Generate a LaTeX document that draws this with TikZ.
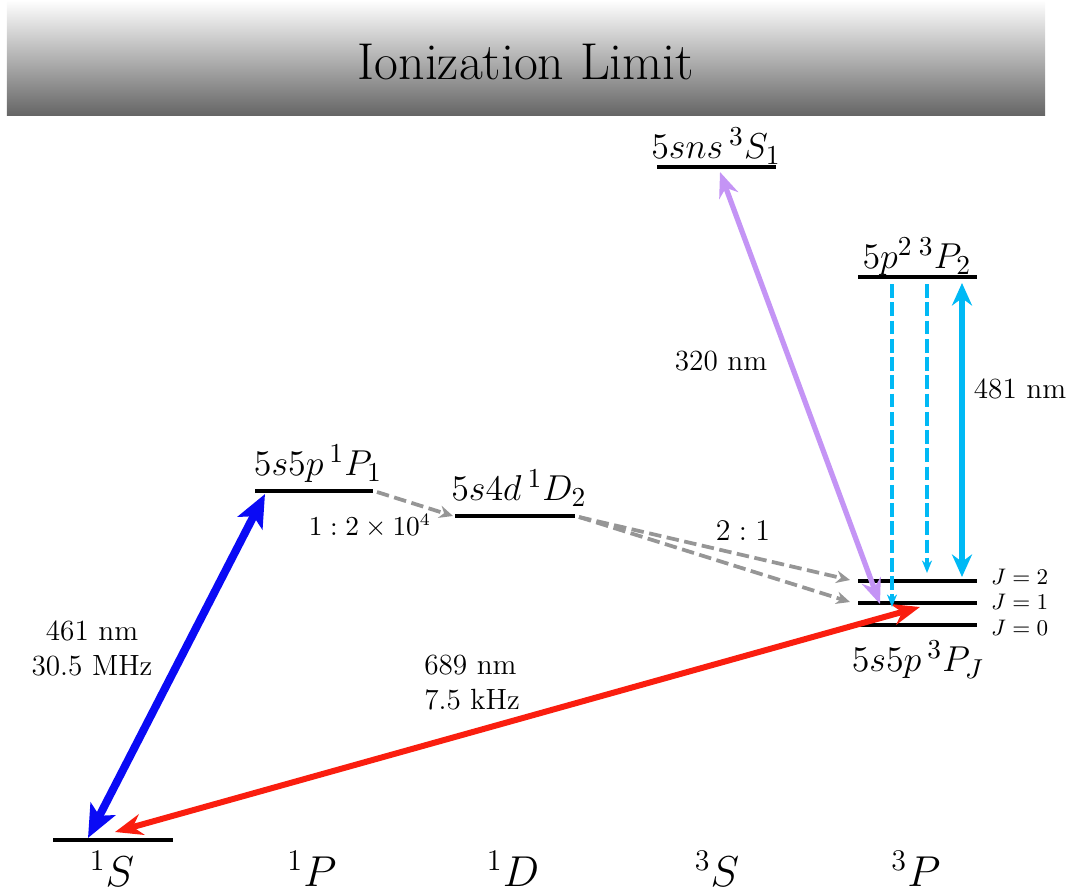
\documentclass[tikz,border=0pt]{standalone}
\usetikzlibrary{arrows.meta}
\definecolor{myblue}{RGB}{10,10,245}
\definecolor{myred}{RGB}{250,30,15}
\definecolor{mypurple}{RGB}{196,148,245}
\definecolor{mycyan}{RGB}{0,185,245}
\definecolor{mygray}{RGB}{150,150,150}
\begin{document}
\begin{tikzpicture}[x=0.4pt,y=-0.4pt,
  lvl/.style={line width=1.8pt},
  lvllabel/.style={font=\fontsize{15.4}{18}\selectfont, inner sep=1pt},
  termlabel/.style={font=\LARGE, inner sep=1pt},
  jlabel/.style={font=\fontsize{8.8}{10}\selectfont, anchor=west, inner sep=1pt},
  txt/.style={font=\fontsize{11.7}{14}\selectfont, inner sep=1pt, align=center},
  bluearrow/.style={myblue, line width=3.2pt, {Stealth[length=13pt,width=11pt,inset=3pt]}-{Stealth[length=13pt,width=11pt,inset=3pt]}},
  redarrow/.style={myred, line width=2.4pt, {Stealth[length=11pt,width=8.5pt]}-{Stealth[length=11pt,width=8.5pt]}},
  purplearrow/.style={mypurple, line width=2.1pt, {Stealth[length=10pt,width=8pt]}-{Stealth[length=10pt,width=8pt]}},
  cyanarrow/.style={mycyan, line width=2.1pt, {Stealth[length=9pt,width=8pt]}-{Stealth[length=9pt,width=8pt]}},
  cyandash/.style={mycyan, line width=1.3pt, dash pattern=on 5.5pt off 1.8pt, -{Stealth[length=5pt,width=4pt]}},
  graydash/.style={mygray, line width=1.5pt, dash pattern=on 5pt off 2.2pt, -{Stealth[length=5.5pt,width=5pt]}}
]
\useasboundingbox (0,0) rectangle (1069,894);
% ionization limit
\shade[top color=white, middle color=black!12, bottom color=black!60] (7,0) rectangle (1045,115);
\node[font=\huge] (ion) at (526,62) {Ionization Limit};

% levels
\coordinate (s0l) at (53,840); \coordinate (s0r) at (173,840);
\draw[lvl] (s0l) -- (s0r);
\coordinate (p1l) at (255,491); \coordinate (p1r) at (373,491);
\draw[lvl] (p1l) -- (p1r);
\node[lvllabel] (p1lab) at (318,464) {$5s5p\,^1P_1$};
\coordinate (d2l) at (455,516); \coordinate (d2r) at (575,516);
\draw[lvl] (d2l) -- (d2r);
\node[lvllabel] (d2lab) at (519,488) {$5s4d\,^1D_2$};
\coordinate (s3l) at (657,167); \coordinate (s3r) at (776,167);
\draw[lvl] (s3l) -- (s3r);
\node[lvllabel] (s3lab) at (716,146) {$5sns\,^3S_1$};
\coordinate (pp2l) at (858,277); \coordinate (pp2r) at (977,277);
\draw[lvl] (pp2l) -- (pp2r);
\node[lvllabel] (pp2lab) at (917,257) {$5p^2\,^3P_2$};
\coordinate (j2l) at (858,581); \coordinate (j2r) at (977,581);
\coordinate (j1l) at (858,603); \coordinate (j1r) at (977,603);
\coordinate (j0l) at (858,625); \coordinate (j0r) at (977,625);
\draw[lvl] (j2l) -- (j2r);
\draw[lvl] (j1l) -- (j1r);
\draw[lvl] (j0l) -- (j0r);
\node[jlabel] (j2lab) at (988,577) {$J=2$};
\node[jlabel] (j1lab) at (988,602) {$J=1$};
\node[jlabel] (j0lab) at (988,628) {$J=0$};
\node[lvllabel] (pjlab) at (918,660) {$5s5p\,^3P_J$};

% term labels
\node[termlabel] (t1) at (112,869) {$^1S$};
\node[termlabel] (t2) at (312,869) {$^1P$};
\node[termlabel] (t3) at (513,869) {$^1D$};
\node[termlabel] (t4) at (717,869) {$^3S$};
\node[termlabel] (t5) at (916,869) {$^3P$};

% transitions
\coordinate (bA) at (88,838); \coordinate (bB) at (265,494);
\draw[bluearrow] (bA) -- (bB);
\node[txt] (blab) at (92,648) {461 nm\\30.5 MHz};
\coordinate (rA) at (115,832); \coordinate (rB) at (920,607);
\draw[redarrow] (rA) -- (rB);
\node[txt, align=left] (rlab) at (472,683) {689 nm\\7.5 kHz};
\coordinate (uA) at (720,172); \coordinate (uB) at (880,604);
\draw[purplearrow] (uA) -- (uB);
\node[txt] (ulab) at (721,361) {320 nm};
\coordinate (cA) at (962,283); \coordinate (cB) at (962,577);
\draw[cyanarrow] (cA) -- (cB);
\node[txt] (clab) at (1020,389) {481 nm};
\coordinate (c1A) at (892,284); \coordinate (c1B) at (892,607);
\draw[cyandash] (c1A) -- (c1B);
\coordinate (c2A) at (927,284); \coordinate (c2B) at (927,573);
\draw[cyandash] (c2A) -- (c2B);

% decays
\coordinate (g1A) at (377,492); \coordinate (g1B) at (453,516);
\draw[graydash] (g1A) -- (g1B);
\node[txt, font=\fontsize{10.5}{12}\selectfont] (g1lab) at (370,526) {$1:2\times10^4$};
\coordinate (g2A) at (579,517); \coordinate (g2B) at (850,580);
\coordinate (g3B) at (850,602);
\draw[graydash] (g2A) -- (g2B);
\draw[graydash] (g2A) -- (g3B);
\node[txt] (g2lab) at (743,531) {$2:1$};
\end{tikzpicture}
\end{document}
